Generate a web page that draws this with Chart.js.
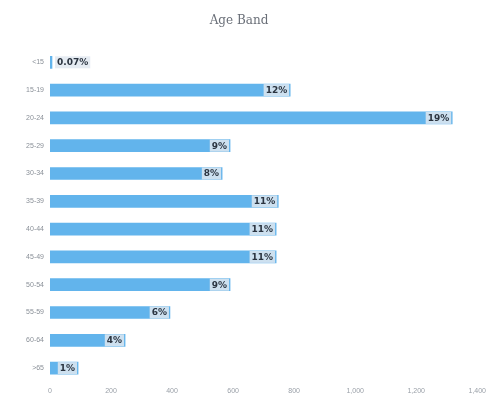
<!DOCTYPE html>
<html>
<head>
<meta charset="utf-8">
<script src="https://cdn.jsdelivr.net/npm/chart.js@4/dist/chart.umd.min.js"></script>
<style>
  html, body { margin: 0; padding: 0; background: #fff; }
  #wrap { width: 491px; height: 396px; }
</style>
</head>
<body>
<div id="wrap"><canvas id="Chart"></canvas></div>
<script>
const bands = ["<15", "15-19", "20-24", "25-29", "30-34", "35-39", "40-44", "45-49", "50-54", "55-59", "60-64", ">65"];
const counts = [5, 787, 1318, 590, 564, 748, 741, 741, 590, 393, 246, 92];
const pctLabels = ["0.07%", "12%", "19%", "9%", "8%", "11%", "11%", "11%", "9%", "6%", "4%", "1%"];
const xTicks = [0, 200, 400, 600, 800, 1000, 1200, 1400];

// labels drawn at the end of each bar
const barLabels = {
  id: "barLabels",
  afterDatasetsDraw(chart) {
    const { ctx } = chart;
    const meta = chart.getDatasetMeta(0);
    ctx.save();
    ctx.font = "bold 9px 'DejaVu Sans', sans-serif";
    ctx.textBaseline = "middle";
    meta.data.forEach((bar, i) => {
      const txt = pctLabels[i];
      const w = ctx.measureText(txt).width + 4;
      const barW = bar.x - bar.base;
      let x0 = bar.x - w - 1;
      if (barW < w + 4) x0 = bar.x + 3;
      ctx.fillStyle = "rgba(225,232,240,0.85)";
      ctx.fillRect(x0, bar.y - 6, w, 12);
      ctx.fillStyle = "#2b3440";
      ctx.fillText(txt, x0 + 2, bar.y + 0.5);
    });
    ctx.restore();
  },
};

new Chart(document.getElementById("Chart"), {
  type: "bar",
  data: {
    labels: bands,
    datasets: [
      {
        data: counts,
        backgroundColor: "#62b4ec",
        barThickness: 12,
        minBarLength: 2,
      },
    ],
  },
  options: {
    indexAxis: "y",
    responsive: true,
    maintainAspectRatio: false,
    animation: false,
    layout: { padding: { left: 0, right: 13, top: 0, bottom: 0 } },
    plugins: {
      legend: { display: false },
      tooltip: { enabled: false },
      title: {
        display: true,
        text: "Age Band",
        color: "#6a6f78",
        font: { family: "'DejaVu Serif', serif", size: 12, weight: "normal" },
        padding: { top: 14, bottom: 20 },
      },
    },
    scales: {
      x: {
        min: 0,
        max: 1400,
        afterBuildTicks: (s) => { s.ticks = xTicks.map((v) => ({ value: v })); },
        grid: { display: false, drawTicks: false, tickLength: 0 },
        border: { display: false },
        ticks: { color: "#9aa0a8", font: { size: 7 }, padding: 5, maxRotation: 0 },
        afterFit: (s) => { s.height = 14; },
      },
      y: {
        grid: { display: false, drawTicks: false, tickLength: 0 },
        border: { display: false },
        ticks: { color: "#8a9098", font: { size: 7 }, padding: 6 },
        afterFit: (s) => { s.width = 50; },
      },
    },
  },
  plugins: [barLabels],
});
</script>
</body>
</html>
